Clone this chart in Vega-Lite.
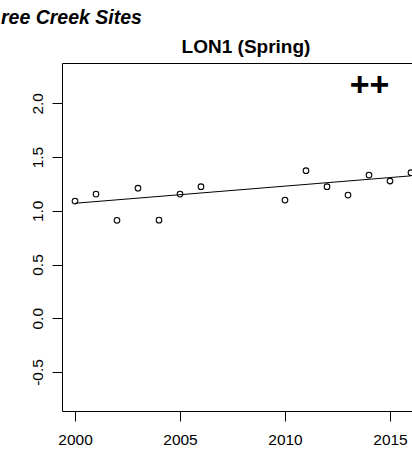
{
  "$schema": "https://vega.github.io/schema/vega-lite/v6.json",
  "width": 350,
  "height": 348,
  "autosize": {"type": "none"},
  "padding": {"left": 62, "top": 63, "right": 0, "bottom": 40},
  "background": "white",
  "config": {
    "view": {"stroke": null},
    "font": "Liberation Sans",
    "axis": {"grid": false, "domainColor": "black", "tickColor": "black", "labelColor": "black", "titleColor": "black", "domainWidth": 1, "tickWidth": 1}
  },
  "title": {
    "text": "ree Creek Sites",
    "anchor": "start",
    "frame": "group",
    "dx": -61,
    "dy": 10,
    "font": "Liberation Sans",
    "fontSize": 19.5,
    "fontWeight": "bold",
    "fontStyle": "italic",
    "color": "black",
    "baseline": "alphabetic"
  },
  "datasets": {
    "obs": [
      {"year": 2000, "value": 1.09},
      {"year": 2001, "value": 1.155},
      {"year": 2002, "value": 0.911},
      {"year": 2003, "value": 1.21},
      {"year": 2004, "value": 0.913},
      {"year": 2005, "value": 1.155},
      {"year": 2006, "value": 1.224},
      {"year": 2010, "value": 1.10},
      {"year": 2011, "value": 1.373},
      {"year": 2012, "value": 1.224},
      {"year": 2013, "value": 1.146},
      {"year": 2014, "value": 1.332},
      {"year": 2015, "value": 1.277},
      {"year": 2016, "value": 1.354}
    ],
    "fit": [
      {"year": 2000, "value": 1.07},
      {"year": 2016, "value": 1.325}
    ],
    "note": [
      {"year": 2014.03, "value": 2.165, "label": "++"}
    ]
  },
  "layer": [
    {
      "data": {"name": "obs"},
      "mark": {"type": "point", "shape": "circle", "filled": false, "size": 32, "stroke": "black", "strokeWidth": 1.1, "opacity": 1, "clip": false},
      "encoding": {
        "x": {
          "field": "year", "type": "quantitative",
          "scale": {"domain": [1999.381, 2016.048], "nice": false, "zero": false},
          "axis": {"orient": "bottom", "values": [2000, 2005, 2010, 2015], "format": "d", "title": null, "labelFontSize": 15.5, "labelFont": "Liberation Sans", "tickSize": 10, "labelPadding": 11.5, "labelBaseline": "top", "labelFlush": false, "labelOverlap": false}
        },
        "y": {
          "field": "value", "type": "quantitative",
          "scale": {"domain": [-0.863, 2.375], "nice": false, "zero": false},
          "axis": {"orient": "left", "values": [-0.5, 0, 0.5, 1, 1.5, 2], "labelExpr": "datum.value < 0 ? '-' + format(-datum.value, '.1f') : format(datum.value, '.1f')", "title": null, "labelFontSize": 15.5, "labelFont": "Liberation Sans", "labelAngle": -90, "labelAlign": "center", "labelBaseline": "alphabetic", "tickSize": 10, "labelPadding": 10, "labelFlush": false, "labelOverlap": false}
        }
      }
    },
    {
      "data": {"name": "fit"},
      "mark": {"type": "line", "color": "black", "strokeWidth": 1},
      "encoding": {
        "x": {
          "field": "year", "type": "quantitative",
          "axis": {"orient": "top", "labels": false, "ticks": false, "domain": true, "title": "LON1 (Spring)", "titleFontSize": 19, "titleFont": "Liberation Sans", "titleFontWeight": "bold", "titleX": 183.5, "titleY": -11, "titleAlign": "center", "titleBaseline": "alphabetic", "titleAngle": 0}
        },
        "y": {
          "field": "value", "type": "quantitative",
          "axis": {"orient": "left", "values": [-0.5, 0, 0.5, 1, 1.5, 2], "labelExpr": "datum.value < 0 ? '-' + format(-datum.value, '.1f') : format(datum.value, '.1f')", "title": null, "labelFontSize": 15.5, "labelFont": "Liberation Sans", "labelAngle": -90, "labelAlign": "center", "labelBaseline": "alphabetic", "tickSize": 10, "labelPadding": 10, "labelFlush": false, "labelOverlap": false}
        }
      }
    },
    {
      "data": {"name": "note"},
      "mark": {"type": "text", "fontSize": 34, "fontWeight": "bold", "font": "Liberation Sans", "color": "black", "align": "center", "baseline": "middle"},
      "encoding": {
        "x": {"field": "year", "type": "quantitative", "axis": null},
        "y": {
          "field": "value", "type": "quantitative",
          "axis": {"orient": "left", "values": [-0.5, 0, 0.5, 1, 1.5, 2], "labelExpr": "datum.value < 0 ? '-' + format(-datum.value, '.1f') : format(datum.value, '.1f')", "title": null, "labelFontSize": 15.5, "labelFont": "Liberation Sans", "labelAngle": -90, "labelAlign": "center", "labelBaseline": "alphabetic", "tickSize": 10, "labelPadding": 10, "labelFlush": false, "labelOverlap": false}
        },
        "text": {"field": "label"}
      }
    }
  ]
}
